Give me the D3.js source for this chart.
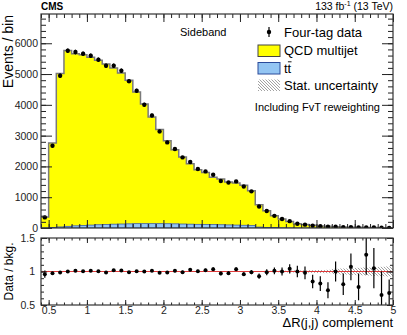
<!DOCTYPE html>
<html>
<head>
<meta charset="utf-8">
<script src="https://cdn.jsdelivr.net/npm/d3@7"></script>
<style>
  body { margin: 0; background: #fff; }
  svg { font-family: "Liberation Sans", Arial, Helvetica, sans-serif; }
</style>
</head>
<body>
<div id="chart"></div>
<script>
// lower bin edges, bin width 0.1
const binLow = [0.4, 0.5, 0.6, 0.7, 0.8, 0.9, 1.0, 1.1, 1.2, 1.3, 1.4, 1.5, 1.6, 1.7, 1.8, 1.9,
  2.0, 2.1, 2.2, 2.3, 2.4, 2.5, 2.6, 2.7, 2.8, 2.9, 3.0, 3.1, 3.2, 3.3, 3.4, 3.5, 3.6, 3.7, 3.8, 3.9,
  4.0, 4.1, 4.2, 4.3, 4.4, 4.5, 4.6, 4.7, 4.8, 4.9];
const binWidth = 0.1;

const qcd = [355, 2745, 4985, 5710, 5590, 5545, 5450, 5340, 5210, 5070, 4905, 4665, 4280, 3890, 3465, 3055,
  2697, 2410, 2175, 1965, 1775, 1690, 1540, 1485, 1395, 1365, 1295, 1130, 727, 542, 388, 284, 209, 137, 108, 86,
  67, 54, 41, 35, 28, 22, 17, 14, 11, 8];
const ttbar = [5, 15, 35, 55, 70, 85, 95, 105, 115, 125, 130, 135, 140, 140, 140, 140,
  138, 135, 130, 125, 120, 115, 110, 105, 100, 95, 90, 80, 30, 20, 12, 8, 5, 3, 2, 2,
  1, 1, 1, 0, 0, 0, 0, 0, 0, 0];
const fourTag = [345, 2670, 4945, 5757, 5714, 5660, 5595, 5465, 5270, 5270, 5108, 4770, 4458, 4003, 3656, 3137,
  2780, 2565, 2293, 2143, 1916, 1838, 1730, 1525, 1480, 1513, 1350, 1190, 700, 550, 395, 292, 222, 140, 108, 75,
  56, 40, 42, 23, 30, 17, 21, 15, 7, 5];

const ratio = [0.96, 0.975, 0.985, 1.0, 1.01, 1.005, 1.01, 1.005, 0.985, 1.02, 1.015, 0.99, 1.005, 1.0, 1.01, 0.98,
  0.985, 1.01, 0.99, 1.025, 1.005, 1.02, 1.035, 0.97, 0.975, 1.035, 0.96, 0.99, 0.93, 0.99, 1.01, 1.0, 1.04, 1.0, 0.98, 0.85,
  0.82, 0.72, 1.0, 0.81, 1.07, 0.77, 1.25, 1.05, 0.65, 0.68];
const ratioErr = [0.055, 0.02, 0.015, 0.015, 0.015, 0.015, 0.015, 0.015, 0.015, 0.015, 0.015, 0.015, 0.018, 0.018, 0.018, 0.018,
  0.018, 0.022, 0.022, 0.022, 0.022, 0.022, 0.027, 0.027, 0.027, 0.027, 0.027, 0.03, 0.04, 0.045, 0.05, 0.06, 0.07, 0.085, 0.095, 0.1,
  0.11, 0.12, 0.15, 0.16, 0.2, 0.2, 0.3, 0.3, 0.35, 0.2];
const bkgRelErr = [0.01, 0.004, 0.003, 0.003, 0.003, 0.003, 0.003, 0.003, 0.003, 0.003, 0.003, 0.003, 0.003, 0.003, 0.003, 0.003,
  0.004, 0.004, 0.004, 0.004, 0.004, 0.005, 0.005, 0.005, 0.005, 0.005, 0.005, 0.006, 0.008, 0.009, 0.01, 0.012, 0.014, 0.016, 0.018, 0.02,
  0.022, 0.025, 0.04, 0.045, 0.05, 0.055, 0.06, 0.065, 0.07, 0.075];

const xTicks = [0.5, 1, 1.5, 2, 2.5, 3, 3.5, 4, 4.5, 5];
const yTicks = [0, 1000, 2000, 3000, 4000, 5000, 6000];
const ratioTicks = [0.5, 1, 1.5];

const width = 407, height = 335;
const main = {left: 41, right: 393, top: 14, bottom: 228};
const rat = {top: 238, bottom: 305};

const svg = d3.select('#chart').append('svg')
  .attr('width', width).attr('height', height);

const x = d3.scaleLinear([0.4, 5.0], [main.left, main.right]);
const y = d3.scaleLinear([0, 6950], [main.bottom, main.top]);
const yr = d3.scaleLinear([0.5, 1.5], [rat.bottom, rat.top]);

const bins = binLow.map((lo, i) => ({
  lo, hi: lo + binWidth, mid: lo + binWidth / 2,
  qcd: qcd[i], tt: ttbar[i], total: qcd[i] + ttbar[i],
  data: fourTag[i], ratio: ratio[i], rErr: ratioErr[i], bErr: bkgRelErr[i]
}));

const defs = svg.append('defs');
defs.append('clipPath').attr('id', 'clipMain').append('rect')
  .attr('x', main.left).attr('y', main.top)
  .attr('width', main.right - main.left).attr('height', main.bottom - main.top);
defs.append('clipPath').attr('id', 'clipRatio').append('rect')
  .attr('x', main.left).attr('y', rat.top)
  .attr('width', main.right - main.left).attr('height', rat.bottom - rat.top);
const hatch = defs.append('pattern').attr('id', 'hatch')
  .attr('patternUnits', 'userSpaceOnUse').attr('width', 3).attr('height', 3);
hatch.append('path').attr('d', 'M-1,-1 L4,4 M-1,2 L1,4 M2,-1 L4,1')
  .attr('stroke', '#8a8a8a').attr('stroke-width', 0.8);

// ---- main panel ----
const gMain = svg.append('g').attr('clip-path', 'url(#clipMain)');
const stepPts = bins.flatMap(d => [[d.lo, d], [d.hi, d]]);

gMain.append('path').datum(stepPts)
  .attr('fill', '#ffff00')
  .attr('d', d3.area().x(p => x(p[0])).y0(p => y(p[1].tt)).y1(p => y(p[1].total)));

gMain.selectAll('rect.tt').data(bins).join('rect').classed('tt', true)
  .attr('x', d => x(d.lo)).attr('width', d => x(d.hi) - x(d.lo))
  .attr('y', d => y(d.tt)).attr('height', d => y(0) - y(d.tt))
  .attr('fill', '#93c5f3').attr('stroke', '#2a4a9a').attr('stroke-width', 0.7);

gMain.append('path').datum(stepPts)
  .attr('fill', 'none').attr('stroke', '#7a7a7a').attr('stroke-width', 1.5)
  .attr('d', d3.line().x(p => x(p[0])).y(p => y(p[1].total)));

gMain.selectAll('line.err').data(bins).join('line').classed('err', true)
  .attr('x1', d => x(d.mid)).attr('x2', d => x(d.mid))
  .attr('y1', d => y(d.data - Math.sqrt(d.data))).attr('y2', d => y(d.data + Math.sqrt(d.data)))
  .attr('stroke', '#000').attr('stroke-width', 1.2);
gMain.selectAll('circle.dot').data(bins).join('circle').classed('dot', true)
  .attr('cx', d => x(d.mid)).attr('cy', d => y(d.data)).attr('r', 2.2).attr('fill', '#000');

// ---- ratio panel ----
const gRat = svg.append('g').attr('clip-path', 'url(#clipRatio)');
gRat.selectAll('rect.band').data(bins).join('rect').classed('band', true)
  .attr('x', d => x(d.lo)).attr('width', d => x(d.hi) - x(d.lo))
  .attr('y', d => yr(1 + d.bErr)).attr('height', d => yr(1 - d.bErr) - yr(1 + d.bErr))
  .attr('fill', 'url(#hatch)');
gRat.append('line')
  .attr('x1', main.left).attr('x2', main.right).attr('y1', yr(1)).attr('y2', yr(1))
  .attr('stroke', '#e03a3a').attr('stroke-width', 1);
gRat.selectAll('line.err').data(bins).join('line').classed('err', true)
  .attr('x1', d => x(d.mid)).attr('x2', d => x(d.mid))
  .attr('y1', d => yr(d.ratio - d.rErr)).attr('y2', d => yr(d.ratio + d.rErr))
  .attr('stroke', '#000').attr('stroke-width', 1.2);
gRat.selectAll('circle.dot').data(bins).join('circle').classed('dot', true)
  .attr('cx', d => x(d.mid)).attr('cy', d => yr(d.ratio)).attr('r', 2.0).attr('fill', '#000');

// ---- axes ----
function addAxis(axis, tx, ty) {
  const g = svg.append('g').attr('transform', `translate(${tx},${ty})`).call(axis);
  g.select('.domain').remove();
  g.attr('font-family', null).attr('font-size', null);
  g.selectAll('line').attr('stroke', '#222');
  g.selectAll('text').attr('fill', '#222').style('font-size', '10.5px');
  return g;
}
const minorX = d3.range(0.4, 5.05, 0.1);
const minorY = d3.range(0, 6950, 200);
const minorR = d3.range(0.5, 1.55, 0.1);

// main y
addAxis(d3.axisLeft(y).tickValues(yTicks).tickSize(-11).tickPadding(3).tickFormat(d => d), main.left, 0);
addAxis(d3.axisLeft(y).tickValues(minorY).tickSize(-5).tickFormat(''), main.left, 0);
addAxis(d3.axisRight(y).tickValues(yTicks).tickSize(-11).tickFormat(''), main.right, 0);
addAxis(d3.axisRight(y).tickValues(minorY).tickSize(-5).tickFormat(''), main.right, 0);
// main x
addAxis(d3.axisBottom(x).tickValues(xTicks).tickSize(-8).tickFormat(''), 0, main.bottom);
addAxis(d3.axisBottom(x).tickValues(minorX).tickSize(-4).tickFormat(''), 0, main.bottom);
addAxis(d3.axisTop(x).tickValues(xTicks).tickSize(-8).tickFormat(''), 0, main.top);
addAxis(d3.axisTop(x).tickValues(minorX).tickSize(-4).tickFormat(''), 0, main.top);
// ratio y
addAxis(d3.axisLeft(yr).tickValues(ratioTicks).tickSize(-6).tickPadding(6).tickFormat(d => d), main.left, 0);
addAxis(d3.axisLeft(yr).tickValues(minorR).tickSize(-3).tickFormat(''), main.left, 0);
addAxis(d3.axisRight(yr).tickValues(ratioTicks).tickSize(-6).tickFormat(''), main.right, 0);
addAxis(d3.axisRight(yr).tickValues(minorR).tickSize(-3).tickFormat(''), main.right, 0);
// ratio x
addAxis(d3.axisBottom(x).tickValues(xTicks).tickSize(-5).tickPadding(2).tickFormat(d => d), 0, rat.bottom);
addAxis(d3.axisBottom(x).tickValues(minorX).tickSize(-2.5).tickFormat(''), 0, rat.bottom);
addAxis(d3.axisTop(x).tickValues(xTicks).tickSize(-5).tickFormat(''), 0, rat.top);
addAxis(d3.axisTop(x).tickValues(minorX).tickSize(-2.5).tickFormat(''), 0, rat.top);

// frames
svg.append('rect').attr('x', main.left).attr('y', main.top)
  .attr('width', main.right - main.left).attr('height', main.bottom - main.top)
  .attr('fill', 'none').attr('stroke', '#333').attr('stroke-width', 1.2);
svg.append('rect').attr('x', main.left).attr('y', rat.top)
  .attr('width', main.right - main.left).attr('height', rat.bottom - rat.top)
  .attr('fill', 'none').attr('stroke', '#333').attr('stroke-width', 1.2);

// ---- texts ----
svg.append('text').attr('x', 41).attr('y', 9.5)
  .style('font-size', '10px').style('font-weight', 'bold').text('CMS');
const lumi = svg.append('text').attr('x', 393).attr('y', 9.5).attr('text-anchor', 'end')
  .style('font-size', '10.5px');
lumi.append('tspan').text('133 fb');
lumi.append('tspan').attr('dy', -4).style('font-size', '7px').text('-1');
lumi.append('tspan').attr('dy', 4).text(' (13 TeV)');

svg.append('text').attr('transform', 'translate(13,15) rotate(-90)').attr('text-anchor', 'end')
  .style('font-size', '14px').text('Events / bin');
svg.append('text').attr('transform', `translate(13,${(rat.top + rat.bottom) / 2}) rotate(-90)`)
  .attr('text-anchor', 'middle').style('font-size', '12px').text('Data / bkg.');
svg.append('text').attr('x', 393).attr('y', 327).attr('text-anchor', 'end')
  .style('font-size', '13px').text('\u0394R(j,j) complement');

svg.append('text').attr('x', 180).attr('y', 36).style('font-size', '11px').text('Sideband');
svg.append('text').attr('x', 380).attr('y', 111).attr('text-anchor', 'end')
  .style('font-size', '11px').text('Including FvT reweighting');

// legend
const leg = svg.append('g');
leg.append('line').attr('x1', 269).attr('x2', 269).attr('y1', 27).attr('y2', 37)
  .attr('stroke', '#000').attr('stroke-width', 1.2);
leg.append('circle').attr('cx', 269).attr('cy', 32).attr('r', 2.2).attr('fill', '#000');
leg.append('rect').attr('x', 258).attr('y', 45).attr('width', 22).attr('height', 11.5)
  .attr('fill', '#ffff00').attr('stroke', '#444').attr('stroke-width', 1);
leg.append('rect').attr('x', 258).attr('y', 62.5).attr('width', 22).attr('height', 11.5)
  .attr('fill', '#93c5f3').attr('stroke', '#2a4a9a').attr('stroke-width', 1);
leg.append('rect').attr('x', 258).attr('y', 79.5).attr('width', 22).attr('height', 11.5)
  .attr('fill', 'url(#hatch)');
leg.append('text').attr('x', 284).attr('y', 36.5).style('font-size', '13px').text('Four-tag data');
leg.append('text').attr('x', 284).attr('y', 55).style('font-size', '13px').text('QCD multijet');
leg.append('text').attr('x', 284).attr('y', 89.5).style('font-size', '13px').text('Stat. uncertainty');
const tt = leg.append('text').attr('x', 284).attr('y', 72.5).style('font-size', '13px').text('tt');
// bar over the second t
const ttNode = tt.node();
const t2a = ttNode.getStartPositionOfChar(1).x, t2b = ttNode.getEndPositionOfChar(1).x;
leg.append('line').attr('x1', t2a + 0.3).attr('x2', t2b + 0.3).attr('y1', 61.8).attr('y2', 61.8)
  .attr('stroke', '#000').attr('stroke-width', 0.9);
</script>
</body>
</html>
